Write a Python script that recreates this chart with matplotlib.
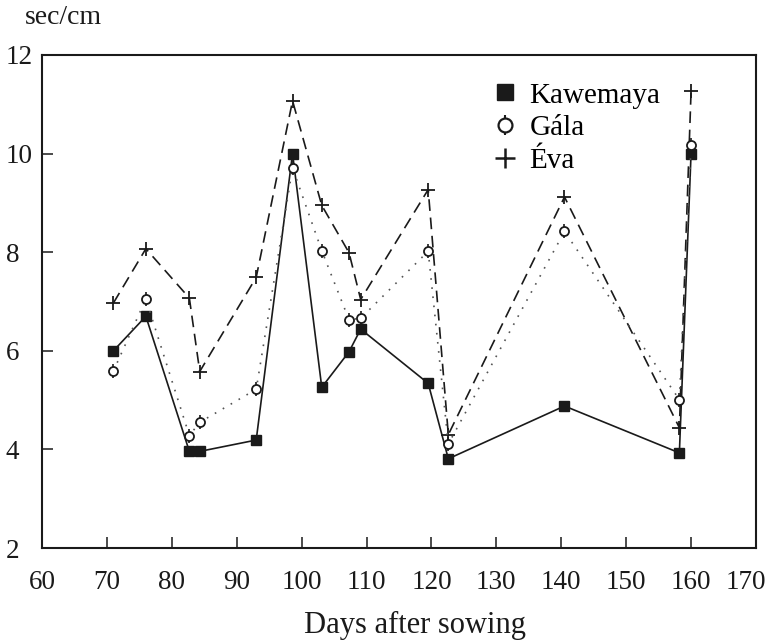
import matplotlib
matplotlib.use("Agg")
import matplotlib.pyplot as plt
import matplotlib.transforms as mtransforms
from matplotlib.lines import Line2D
from matplotlib.legend_handler import HandlerTuple

plt.rcParams['font.family'] = ['Liberation Serif', 'DejaVu Serif']

# sampling dates (days after sowing) and leaf resistance per cultivar
days = [71, 76, 82.7, 84.3, 93, 98.6, 103.1, 107.3, 109.1, 119.5, 122.6, 140.5, 158.2, 160]
kawemaya = [6.0, 6.7, 3.96, 3.96, 4.19, 10.0, 5.26, 5.98, 6.44, 5.34, 3.81, 4.88, 3.93, 10.0]
gala = [5.59, 7.05, 4.28, 4.55, 5.22, 9.71, 8.03, 6.63, 6.66, 8.02, 4.11, 8.42, 5.01, 10.17]
eva = [6.97, 8.07, 7.07, 5.58, 7.49, 11.07, 8.95, 7.99, 7.04, 9.27, 4.30, 9.12, 4.44, 11.26]

xticks = list(range(60, 171, 10))
yticks = list(range(2, 13, 2))

ink = '#1a1a1a'

fig = plt.figure(figsize=(7.71, 6.43), dpi=100)
ax = fig.add_axes([0.0545, 0.1477, 0.926, 0.7668])

ax.plot(days, eva, color=ink, lw=1.2, ls=(0, (7, 4)), marker='+', ms=10, mew=1.3, zorder=3)
ax.plot(days, kawemaya, color=ink, lw=1.2, ls='-', marker='s', ms=7, mfc=ink, mec=ink, zorder=4)
ax.plot(days, gala, color='#555555', lw=1.2, ls=(0, (1, 4.5)), marker='|', ms=10, mec=ink, mew=1.2, zorder=5)
ax.plot(days, gala, ls='none', marker='o', ms=6.5, mfc='white', mec=ink, mew=1.3, zorder=6)

ax.set_xlim(60, 170)
ax.set_ylim(2, 12)
ax.set_xticks(xticks)
ax.set_yticks(yticks)
ax.tick_params(axis='both', direction='in', length=8, width=1.1, colors=ink, labelsize=19.5)
ax.tick_params(axis='x', pad=16)
ax.tick_params(axis='y', pad=26)
for lab in ax.get_yticklabels():
    lab.set_horizontalalignment('left')
# last x label sits a little inside the right edge
last = ax.get_xticklabels()[-1]
last.set_transform(last.get_transform() + mtransforms.ScaledTranslation(-7 / 72, 0, fig.dpi_scale_trans))
for sp in ax.spines.values():
    sp.set_linewidth(1.5)
    sp.set_color(ink)

fig.text(415 / 771, 1 - 625 / 643, 'Days after sowing', ha='center', va='center', fontsize=22, color=ink)
fig.text(25 / 771, 1 - 17 / 643, 'sec/cm', ha='left', va='center', fontsize=20, color=ink)

h_kaw = Line2D([], [], ls='none', marker='s', ms=11, mfc=ink, mec=ink)
h_gala = (Line2D([], [], ls='none', marker='|', ms=14, mec=ink, mew=1.5),
          Line2D([], [], ls='none', marker='o', ms=10, mfc='white', mec=ink, mew=1.6))
h_eva = Line2D([], [], ls='none', marker='+', ms=15, mec=ink, mew=1.8)
ax.legend([h_kaw, h_gala, h_eva], ['Kawemaya', 'Gála', 'Éva'],
          handler_map={tuple: HandlerTuple(ndivide=1, pad=0)},
          loc='upper left', bbox_to_anchor=(0.636, 0.945), frameon=False,
          fontsize=21, handlelength=0.6, handletextpad=0.55, labelspacing=0.22,
          borderpad=0, borderaxespad=0)

fig.savefig('out.png', dpi=100, facecolor='white')
